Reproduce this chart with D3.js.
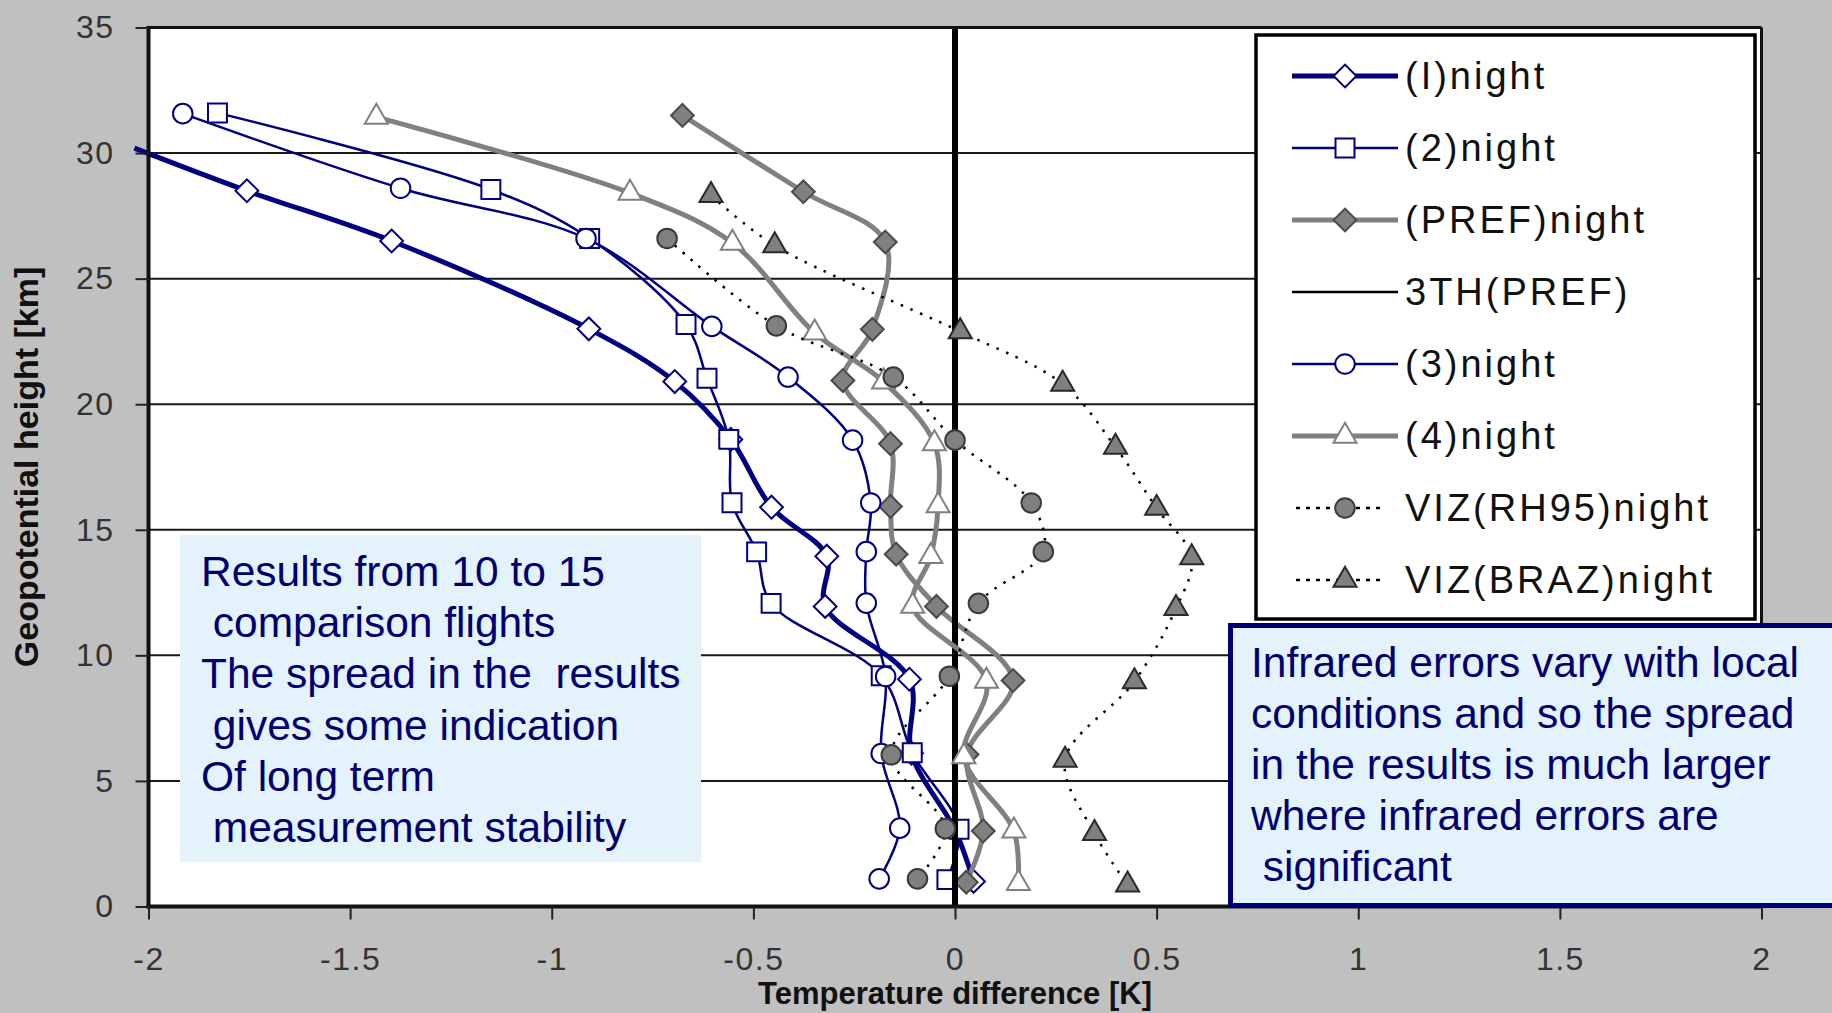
<!DOCTYPE html>
<html>
<head>
<meta charset="utf-8">
<script src="https://cdn.jsdelivr.net/npm/d3@7"></script>
<style>
  html, body { margin: 0; padding: 0; background: #c0c0c0; overflow: hidden; }
  svg { display: block; }
  text { font-family: "Liberation Sans", Arial, Helvetica, sans-serif; }
</style>
</head>
<body>
<svg id="chart" width="1832" height="1013"></svg>
<script>
// ---- Temperature difference [K] versus geopotential height [km], night flights ----
const xTicks = [-2, -1.5, -1, -0.5, 0, 0.5, 1, 1.5, 2];
const yTicks = [0, 5, 10, 15, 20, 25, 30, 35];

const seriesNames = ["(I)night", "(2)night", "(PREF)night", "3TH(PREF)",
                     "(3)night", "(4)night", "VIZ(RH95)night", "VIZ(BRAZ)night"];

const night1Temp   = [-2.035, -1.756, -1.397, -0.908, -0.695, -0.556, -0.455, -0.318, -0.322, -0.113, -0.108, 0.0, 0.046];
const night1Height = [30.2, 28.5, 26.5, 23.0, 20.9, 18.6, 15.9, 13.95, 11.95, 9.05, 6.1, 3.05, 1.0];

const night2Temp   = [-1.829, -1.151, -0.906, -0.667, -0.615, -0.561, -0.553, -0.492, -0.456, -0.183, -0.106, 0.01, -0.02];
const night2Height = [31.6, 28.55, 26.6, 23.17, 21.03, 18.6, 16.08, 14.12, 12.07, 9.19, 6.12, 3.08, 1.07];

const prefTemp   = [-0.676, -0.376, -0.173, -0.205, -0.278, -0.16, -0.16, -0.146, -0.046, 0.144, 0.03, 0.07, 0.028];
const prefHeight = [31.5, 28.46, 26.46, 22.98, 20.94, 18.43, 15.93, 14.03, 11.95, 9.0, 6.05, 3.01, 0.97];

const thTemp   = [0, 0];
const thHeight = [0, 35];

const night3Temp   = [-1.915, -1.375, -0.915, -0.603, -0.414, -0.254, -0.209, -0.22, -0.22, -0.172, -0.183, -0.137, -0.188];
const night3Height = [31.57, 28.6, 26.6, 23.1, 21.08, 18.57, 16.07, 14.13, 12.08, 9.16, 6.09, 3.12, 1.1];

const night4Temp   = [-1.435, -0.806, -0.552, -0.348, -0.177, -0.051, -0.042, -0.06, -0.105, 0.078, 0.022, 0.146, 0.157];
const night4Height = [31.43, 28.41, 26.42, 22.84, 20.89, 18.43, 15.96, 13.94, 11.96, 8.98, 5.97, 3.01, 0.92];

const rh95Temp   = [-0.714, -0.443, -0.153, 0.0, 0.189, 0.219, 0.058, -0.014, -0.158, -0.024, -0.093];
const rh95Height = [26.6, 23.12, 21.08, 18.57, 16.07, 14.13, 12.07, 9.17, 6.04, 3.1, 1.1];

const brazTemp   = [-0.605, -0.447, 0.013, 0.267, 0.398, 0.5, 0.587, 0.548, 0.445, 0.273, 0.346, 0.428];
const brazHeight = [28.32, 26.32, 22.89, 20.8, 18.29, 15.86, 13.89, 11.87, 8.96, 5.83, 2.91, 0.86];

const noteLeft = [
  "Results from 10 to 15",
  " comparison flights",
  "The spread in the  results",
  " gives some indication",
  "Of long term",
  " measurement stability"
];
const noteRight = [
  "Infrared errors vary with local",
  "conditions and so the spread",
  "in the results is much larger",
  "where infrared errors are",
  " significant"
];

// ---- layout ----
const W = 1832, H = 1013;
const plot = { left: 148.5, right: 1761.5, top: 27.5, bottom: 906.5 };
const NAVY = "#000080", GREY = "#808080", INK = "#1a1a1a", NOTE = "#000070", NOTE_BG = "#e4f2fc";

const x = d3.scaleLinear().domain([-2, 2]).range([plot.left, plot.right]);
const y = d3.scaleLinear().domain([0, 35]).range([plot.bottom, plot.top]);

const zip = (t, h) => t.map((v, i) => ({ t: v, h: h[i] }));

const series = [
  { name: seriesNames[0], pts: zip(night1Temp, night1Height), stroke: NAVY, width: 5,   marker: "diamond",  fill: "#fff",  mStroke: NAVY },
  { name: seriesNames[1], pts: zip(night2Temp, night2Height), stroke: NAVY, width: 2.5, marker: "square",   fill: "#fff",  mStroke: NAVY },
  { name: seriesNames[2], pts: zip(prefTemp, prefHeight),     stroke: GREY, width: 5,   marker: "diamond",  fill: GREY,    mStroke: "#4a4a4a" },
  { name: seriesNames[3], pts: zip(thTemp, thHeight),         stroke: "#000", width: 6, legendWidth: 2.5, marker: null },
  { name: seriesNames[4], pts: zip(night3Temp, night3Height), stroke: NAVY, width: 2.5, marker: "circle",   fill: "#fff",  mStroke: NAVY },
  { name: seriesNames[5], pts: zip(night4Temp, night4Height), stroke: GREY, width: 5,   marker: "triangle", fill: "#fff",  mStroke: GREY },
  { name: seriesNames[6], pts: zip(rh95Temp, rh95Height),     stroke: "#000", width: 2.5, dash: "2.5,8", legendDash: "4,6", marker: "circle",   fill: GREY, mStroke: "#3a3a3a" },
  { name: seriesNames[7], pts: zip(brazTemp, brazHeight),     stroke: "#000", width: 2.5, dash: "2.5,8", legendDash: "4,6", marker: "triangle", fill: GREY, mStroke: "#2a2a2a" }
];

const symbolPath = {
  diamond:  d3.symbol().type(d3.symbolSquare).size(260)(),
  square:   d3.symbol().type(d3.symbolSquare).size(360)(),
  circle:   d3.symbol().type(d3.symbolCircle).size(300)(),
  triangle: d3.symbol().type(d3.symbolTriangle).size(230)()
};
const markerTransform = (kind, px, py) =>
  `translate(${px},${py})` + (kind === "diamond" ? " rotate(45)" : "");

const svg = d3.select("#chart");

// background and plot area
svg.append("rect").attr("width", W).attr("height", H).attr("fill", "#c0c0c0");
svg.append("rect")
  .attr("x", plot.left).attr("y", plot.top)
  .attr("width", plot.right - plot.left).attr("height", plot.bottom - plot.top)
  .attr("fill", "#fff");

// horizontal gridlines
svg.append("g").selectAll("line")
  .data(yTicks.filter(v => v > 0 && v < 35))
  .join("line")
  .attr("x1", plot.left).attr("x2", plot.right)
  .attr("y1", d => y(d)).attr("y2", d => y(d))
  .attr("stroke", INK).attr("stroke-width", 2);

// series: smoothed lines plus markers
const line = d3.line()
  .x(d => x(d.t)).y(d => y(d.h))
  .curve(d3.curveCatmullRom.alpha(0.5));

const gSeries = svg.append("g");
series.forEach(s => {
  const g = gSeries.append("g");
  g.append("path")
    .attr("d", line(s.pts))
    .attr("fill", "none")
    .attr("stroke", s.stroke)
    .attr("stroke-width", s.width)
    .attr("stroke-linejoin", "round")
    .attr("stroke-dasharray", s.dash || null);
  if (s.marker) {
    g.selectAll("path.m")
      .data(s.pts.filter(p => p.t >= -2 && p.t <= 2))
      .join("path")
      .attr("class", "m")
      .attr("d", symbolPath[s.marker])
      .attr("transform", p => markerTransform(s.marker, x(p.t), y(p.h)))
      .attr("fill", s.fill)
      .attr("stroke", s.mStroke)
      .attr("stroke-width", 2);
  }
});

// plot frame
const frame = svg.append("g").attr("stroke", "#111");
frame.append("line").attr("x1", plot.left).attr("x2", plot.right).attr("y1", y(35)).attr("y2", y(35)).attr("stroke-width", 3);
frame.append("line").attr("x1", plot.right).attr("x2", plot.right).attr("y1", plot.top).attr("y2", plot.bottom).attr("stroke-width", 3);
frame.append("line").attr("x1", plot.left).attr("x2", plot.left).attr("y1", plot.top - 1.5).attr("y2", plot.bottom + 2).attr("stroke-width", 4);
frame.append("line").attr("x1", plot.left - 2).attr("x2", plot.right + 1.5).attr("y1", plot.bottom).attr("y2", plot.bottom).attr("stroke-width", 4);

// axes
const styleAxis = g => {
  g.select(".domain").remove();
  g.selectAll(".tick line").attr("stroke", "#222").attr("stroke-width", 2);
  g.selectAll(".tick text")
    .attr("fill", "#333")
    .style("font-size", "32px")
    .style("letter-spacing", "1.5px");
};
svg.append("g")
  .attr("transform", `translate(${plot.left},0)`)
  .call(d3.axisLeft(y).tickValues(yTicks).tickSize(13).tickSizeOuter(0).tickPadding(21).tickFormat(String))
  .call(styleAxis);
svg.append("g")
  .attr("transform", `translate(0,${plot.bottom})`)
  .call(d3.axisBottom(x).tickValues(xTicks).tickSize(13).tickSizeOuter(0).tickPadding(28).tickFormat(String))
  .call(styleAxis);

// axis titles
svg.append("text")
  .attr("transform", `translate(38,${(plot.top + plot.bottom) / 2}) rotate(-90)`)
  .attr("text-anchor", "middle")
  .attr("fill", "#111")
  .style("font-size", "34px").style("font-weight", "bold")
  .text("Geopotential height [km]");
svg.append("text")
  .attr("x", x(0)).attr("y", 1004)
  .attr("text-anchor", "middle")
  .attr("fill", "#111")
  .style("font-size", "31px").style("font-weight", "bold")
  .text("Temperature difference [K]");

// legend
const legend = svg.append("g");
legend.append("rect")
  .attr("x", 1256).attr("y", 35).attr("width", 499).attr("height", 584)
  .attr("fill", "#fff").attr("stroke", "#000").attr("stroke-width", 3.5);
series.forEach((s, i) => {
  const cy = 76 + i * 72;
  const dotted = !!s.dash;
  legend.append("line")
    .attr("x1", dotted ? 1296 : 1292).attr("x2", dotted ? 1386 : 1398)
    .attr("y1", cy).attr("y2", cy)
    .attr("stroke", s.stroke)
    .attr("stroke-width", s.legendWidth || s.width)
    .attr("stroke-dasharray", s.legendDash || null);
  if (s.marker) {
    legend.append("path")
      .attr("d", symbolPath[s.marker])
      .attr("transform", markerTransform(s.marker, 1345, cy))
      .attr("fill", s.fill).attr("stroke", s.mStroke).attr("stroke-width", 2);
  }
  legend.append("text")
    .attr("x", 1405).attr("y", cy + 13)
    .attr("fill", "#111")
    .style("font-size", "38px")
    .style("letter-spacing", "3px")
    .text(s.name);
});

// annotation boxes
const left = svg.append("g");
left.append("rect").attr("x", 180).attr("y", 535).attr("width", 521).attr("height", 327).attr("fill", NOTE_BG);
left.selectAll("text").data(noteLeft).join("text")
  .attr("x", 201).attr("y", (d, i) => 586 + i * 51.2)
  .attr("fill", NOTE)
  .style("font-size", "42.5px")
  .style("white-space", "pre")
  .text(d => d);

const right = svg.append("g");
right.append("rect").attr("x", 1230.5).attr("y", 625.5).attr("width", 640).attr("height", 280)
  .attr("fill", NOTE_BG).attr("stroke", NOTE).attr("stroke-width", 5);
right.selectAll("text").data(noteRight).join("text")
  .attr("x", 1251).attr("y", (d, i) => 677 + i * 51)
  .attr("fill", NOTE)
  .style("font-size", "42.5px")
  .style("white-space", "pre")
  .text(d => d);
</script>
</body>
</html>
